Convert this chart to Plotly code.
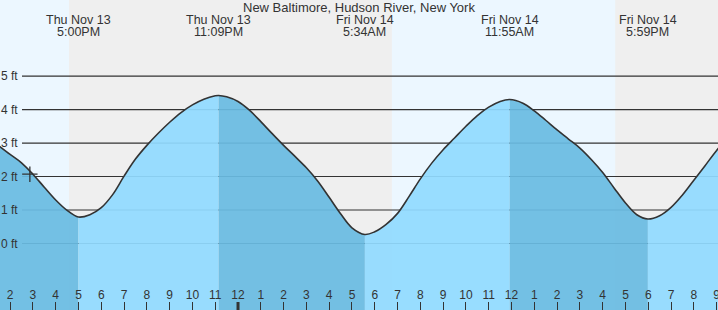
import plotly.graph_objects as go
from datetime import datetime

W, H = 718, 310

# ---------------- data ----------------
sample_times = [
    "2025-11-13 13:30", "2025-11-13 14:00", "2025-11-13 14:30", "2025-11-13 15:00",
    "2025-11-13 15:30", "2025-11-13 16:00", "2025-11-13 16:30", "2025-11-13 17:30",
    "2025-11-13 18:00", "2025-11-13 18:30", "2025-11-13 19:00", "2025-11-13 19:30",
    "2025-11-13 20:00", "2025-11-13 20:30", "2025-11-13 21:00", "2025-11-13 21:30",
    "2025-11-13 22:00", "2025-11-13 22:30", "2025-11-13 23:00", "2025-11-13 23:30",
    "2025-11-14 00:00", "2025-11-14 00:30", "2025-11-14 01:00", "2025-11-14 01:30",
    "2025-11-14 02:00", "2025-11-14 02:30", "2025-11-14 03:00", "2025-11-14 03:30",
    "2025-11-14 04:00", "2025-11-14 04:30", "2025-11-14 05:00", "2025-11-14 06:00",
    "2025-11-14 06:30", "2025-11-14 07:00", "2025-11-14 07:30", "2025-11-14 08:00",
    "2025-11-14 08:30", "2025-11-14 09:00", "2025-11-14 09:30", "2025-11-14 10:00",
    "2025-11-14 10:30", "2025-11-14 11:00", "2025-11-14 11:30", "2025-11-14 12:30",
    "2025-11-14 13:00", "2025-11-14 13:30", "2025-11-14 14:00", "2025-11-14 14:30",
    "2025-11-14 15:00", "2025-11-14 15:30", "2025-11-14 16:00", "2025-11-14 16:30",
    "2025-11-14 17:00", "2025-11-14 17:30", "2025-11-14 18:30", "2025-11-14 19:00",
    "2025-11-14 19:30", "2025-11-14 20:00", "2025-11-14 20:30", "2025-11-14 21:00",
    "2025-11-14 21:30",
]
sample_heights = [
    2.92, 2.66, 2.41, 2.07,
    1.68, 1.30, 0.99, 0.86,
    1.07, 1.46, 2.01, 2.52,
    2.93, 3.29, 3.62, 3.91,
    4.14, 4.31, 4.41, 4.38,
    4.24, 3.98, 3.64, 3.28,
    2.93, 2.60, 2.26, 1.86,
    1.38, 0.89, 0.47, 0.35,
    0.57, 0.90, 1.40, 1.93,
    2.40, 2.80, 3.15, 3.50,
    3.82, 4.07, 4.24, 4.19,
    3.96, 3.68, 3.39, 3.12,
    2.85, 2.51, 2.12, 1.66,
    1.21, 0.86, 0.83, 1.08,
    1.45, 1.89, 2.33, 2.78,
    3.15,
]

event_times = ["2025-11-13 17:00", "2025-11-13 23:09", "2025-11-14 05:34",
               "2025-11-14 11:55", "2025-11-14 17:59"]
event_heights = [0.79, 4.42, 0.27, 4.30, 0.73]
event_dates = ["Thu Nov 13", "Thu Nov 13", "Fri Nov 14", "Fri Nov 14", "Fri Nov 14"]
event_clock = ["5:00PM", "11:09PM", "5:34AM", "11:55AM", "5:59PM"]

# night shading (sunset -> sunrise)
night_starts = ["2025-11-13 16:35", "2025-11-14 16:33"]
night_ends = ["2025-11-14 06:45", "2025-11-14 23:59"]

now_time = ["2025-11-13 14:52"]
now_height = [2.07]

midnights = ["2025-11-14 00:00"]

y_ticks = [0, 1, 2, 3, 4, 5]
y_tick_text = ["0 ft", "1 ft", "2 ft", "3 ft", "4 ft", "5 ft"]
title_text = "New Baltimore, Hudson River, New York"

x_range = ["2025-11-13 13:33:24", "2025-11-14 21:03:36"]
y_range = [-1.985, 7.27]

# ---------------- styles ----------------
DAY_BG = "#ecf7ff"
NIGHT_BG = "#efefef"
RISE_FILL = "rgba(145,218,255,0.93)"
FALL_FILL = "rgba(105,187,226,0.93)"
LINE_COL = "#333333"
TXT = "#333333"
FONT = "Liberation Sans, Arial, sans-serif"

fmt = "%Y-%m-%d %H:%M"
pts = [(datetime.strptime(t, fmt), h) for t, h in zip(sample_times, sample_heights)]
ev = [(datetime.strptime(t, fmt), h) for t, h in zip(event_times, event_heights)]
allpts = sorted(pts + ev, key=lambda p: p[0])

fig = go.Figure()

SMOOTH = 1.0
bounds = [allpts[0][0]] + [e[0] for e in ev] + [allpts[-1][0]]
for i in range(len(bounds) - 1):
    seg = [p for p in allpts if bounds[i] <= p[0] <= bounds[i + 1]]
    xs = [p[0] for p in seg]
    ys = [p[1] for p in seg]
    rising = ys[-1] > ys[0]
    fig.add_trace(go.Scatter(x=xs, y=[y_range[0]] * len(xs), mode="lines",
                             line=dict(width=0), hoverinfo="skip", showlegend=False))
    fig.add_trace(go.Scatter(x=xs, y=ys, mode="lines", fill="tonexty",
                             fillcolor=RISE_FILL if rising else FALL_FILL,
                             line=dict(width=0, shape="spline", smoothing=SMOOTH),
                             hoverinfo="skip", showlegend=False))

fig.add_trace(go.Scatter(x=[p[0] for p in allpts], y=[p[1] for p in allpts],
                         mode="lines", line=dict(color=LINE_COL, width=1.6,
                                                 shape="spline", smoothing=SMOOTH),
                         showlegend=False))

fig.add_trace(go.Scatter(x=now_time, y=now_height, mode="markers",
                         marker=dict(symbol="cross-thin", size=11,
                                     line=dict(color=LINE_COL, width=1.3)),
                         showlegend=False))

shapes = []
shapes.append(dict(type="rect", xref="paper", yref="paper", x0=0, x1=1, y0=0, y1=1,
                   fillcolor=DAY_BG, line=dict(width=0), layer="below"))
for a, b in zip(night_starts, night_ends):
    shapes.append(dict(type="rect", xref="x", yref="paper", x0=a, x1=b, y0=0, y1=1,
                       fillcolor=NIGHT_BG, line=dict(width=0), layer="below"))
for v in y_ticks:
    shapes.append(dict(type="line", xref="paper", yref="y", x0=22 / W, x1=1, y0=v, y1=v,
                       line=dict(color=LINE_COL, width=1.2), layer="below"))
for m in midnights:
    shapes.append(dict(type="line", xref="x", yref="paper", x0=m, x1=m, y0=0, y1=8 / H,
                       line=dict(color=LINE_COL, width=3), layer="above"))

annotations = [dict(text=title_text, xref="paper", yref="paper", x=0.5, y=1 - 8 / H,
                    yanchor="middle", showarrow=False, font=dict(size=13, color=TXT))]
for t, d, c in zip(event_times, event_dates, event_clock):
    annotations.append(dict(text=d, xref="x", yref="paper", x=t, y=1 - 20 / H,
                            yanchor="middle", showarrow=False, font=dict(size=12.5, color=TXT)))
    annotations.append(dict(text=c, xref="x", yref="paper", x=t, y=1 - 32 / H,
                            yanchor="middle", showarrow=False, font=dict(size=12.5, color=TXT)))
# y-axis labels drawn inside the plot, left-aligned
for v, lab in zip(y_ticks, y_tick_text):
    annotations.append(dict(text=lab, xref="paper", yref="y", x=0, y=v, xanchor="left",
                            yanchor="middle", xshift=-1, showarrow=False,
                            font=dict(size=12, color=TXT)))

fig.update_layout(
    width=W, height=H, margin=dict(l=0, r=0, t=0, b=0, autoexpand=False),
    paper_bgcolor="white", plot_bgcolor=DAY_BG,
    font=dict(family=FONT, size=12, color=TXT),
    shapes=shapes, annotations=annotations, showlegend=False,
    xaxis=dict(type="date", range=x_range, showgrid=False, zeroline=False,
               dtick=3600000, tick0="2025-11-13 00:00", tickformat="%-I",
               ticks="inside", ticklen=8, tickwidth=1, tickcolor=LINE_COL,
               ticklabelposition="inside", ticklabeloverflow="allow",
               tickfont=dict(size=12, color=TXT), automargin=False,
               showline=False, fixedrange=True),
    yaxis=dict(range=y_range, showgrid=False, zeroline=False,
               showticklabels=False, ticks="", showline=False, automargin=False,
               fixedrange=True),
)

fig.write_html("out.html")
